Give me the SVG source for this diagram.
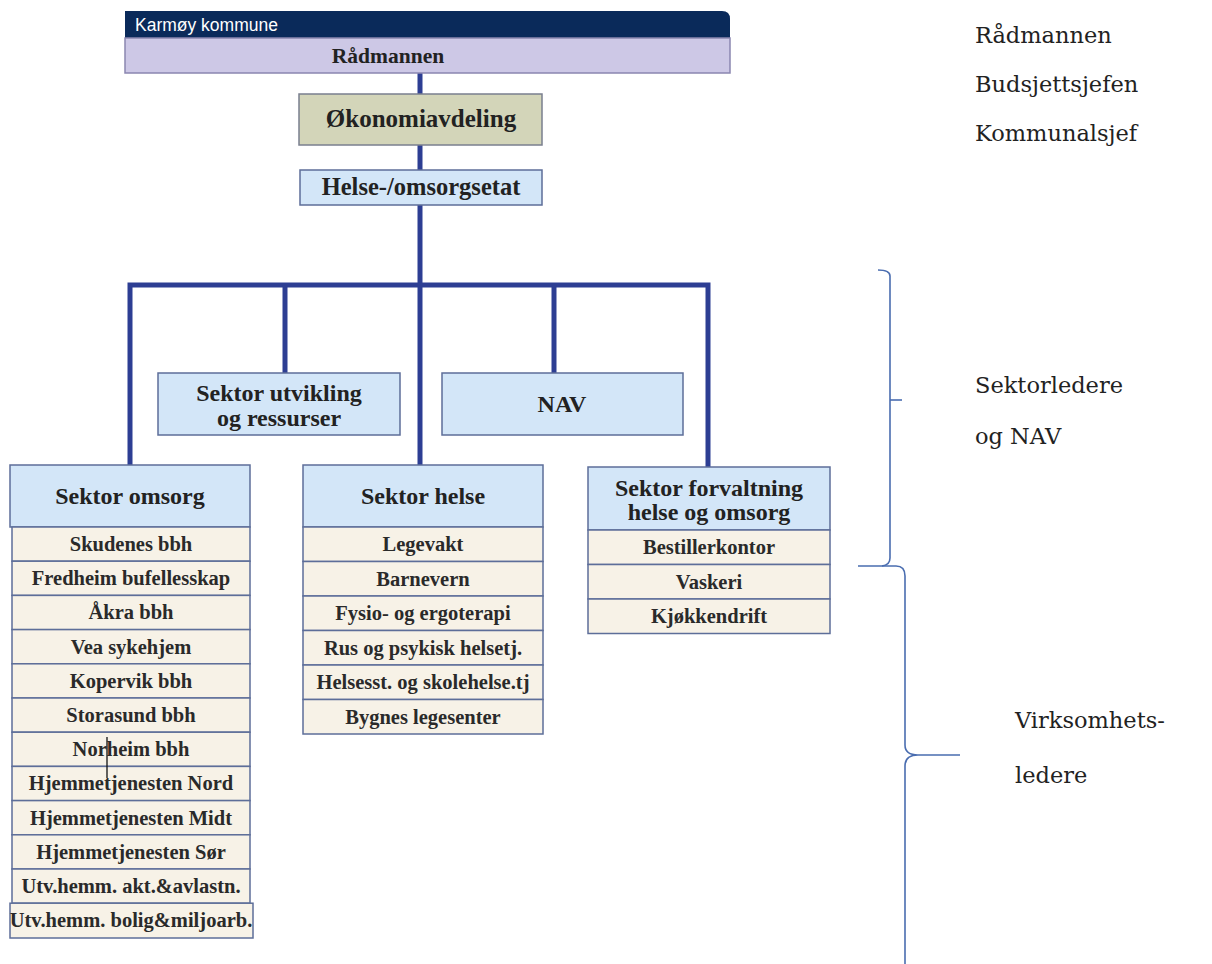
<svg xmlns="http://www.w3.org/2000/svg" width="1212" height="964" viewBox="0 0 1212 964">
<style>
.hdr{fill:#d3e6f8;stroke:#5d6e99;stroke-width:1.5}
.row{fill:#f7f2e7;stroke:#5d6e99;stroke-width:1.5}
.ht{font-family:"Liberation Serif",serif;font-weight:bold;font-size:24px;fill:#222;text-anchor:middle}
.rt{font-family:"Liberation Serif",serif;font-weight:bold;font-size:20.5px;fill:#2a2a2a;text-anchor:middle}
.side{font-family:"DejaVu Serif",serif;font-size:22.5px;fill:#222}
.conn{stroke:#2d3e93;stroke-width:5;fill:none;stroke-linejoin:miter}
.br{stroke:#4a6db0;stroke-width:1.6;fill:none}
</style>
<rect width="1212" height="964" fill="#ffffff"/>

<g id="connectors">
<path class="conn" d="M420,73 V94 M420,145 V170 M420,205 V465"/>
<path class="conn" d="M130,465 V285 H708 V467"/>
<path class="conn" d="M285,285 V373 M554,285 V373"/>
</g>

<g id="karmoy">
<path d="M125,11 H722 Q730,11 730,19 V38 H125 Z" fill="#0a2a5a"/>
<text x="135" y="31" font-family="Liberation Sans, sans-serif" font-size="17.5" fill="#ffffff">Karmøy kommune</text>
<rect x="125" y="38" width="605" height="35" fill="#cdc8e6" stroke="#8a86b0" stroke-width="1.5"/>
<text x="388" y="63" class="ht" style="font-size:21.5px">Rådmannen</text>
</g>

<g id="okonomi">
<rect x="299" y="94" width="243" height="51" fill="#d3d5b9" stroke="#7a7f8f" stroke-width="1.5"/>
<text x="421" y="127" class="ht" style="font-size:25px">Økonomiavdeling</text>
</g>

<g id="helseomsorg">
<rect x="300" y="170" width="242" height="35" class="hdr"/>
<text x="421" y="195" class="ht" style="font-size:24.5px">Helse-/omsorgsetat</text>
</g>

<g id="utvikling">
<rect x="158" y="373" width="242" height="62" class="hdr"/>
<text x="279" y="401" class="ht">Sektor utvikling</text>
<text x="279" y="426" class="ht">og ressurser</text>
</g>

<g id="nav">
<rect x="442" y="373" width="241" height="62" class="hdr"/>
<text x="562" y="412" class="ht">NAV</text>
</g>

<g id="omsorg">
<rect x="10" y="465" width="240" height="62" class="hdr"/>
<text x="130" y="504" class="ht">Sektor omsorg</text>
<rect x="12" y="527" width="238" height="34.2" class="row"/>
<text x="131" y="551" class="rt">Skudenes bbh</text>
<rect x="12" y="561.2" width="238" height="34.2" class="row"/>
<text x="131" y="585" class="rt">Fredheim bufellesskap</text>
<rect x="12" y="595.4" width="238" height="34.2" class="row"/>
<text x="131" y="619" class="rt">Åkra bbh</text>
<rect x="12" y="629.6" width="238" height="34.2" class="row"/>
<text x="131" y="654" class="rt">Vea sykehjem</text>
<rect x="12" y="663.8" width="238" height="34.2" class="row"/>
<text x="131" y="688" class="rt">Kopervik bbh</text>
<rect x="12" y="698" width="238" height="34.2" class="row"/>
<text x="131" y="722" class="rt">Storasund bbh</text>
<rect x="12" y="732.2" width="238" height="34.2" class="row"/>
<text x="131" y="756" class="rt">Norheim bbh</text>
<rect x="12" y="766.4" width="238" height="34.2" class="row"/>
<text x="131" y="790" class="rt">Hjemmetjenesten Nord</text>
<rect x="12" y="800.6" width="238" height="34.2" class="row"/>
<text x="131" y="825" class="rt">Hjemmetjenesten Midt</text>
<rect x="12" y="834.8" width="238" height="34.2" class="row"/>
<text x="131" y="859" class="rt">Hjemmetjenesten Sør</text>
<rect x="12" y="869" width="238" height="34.2" class="row"/>
<text x="131" y="893" class="rt">Utv.hemm. akt.&amp;avlastn.</text>
<rect x="10" y="903.2" width="243" height="34.8" class="row"/>
<text x="131" y="927" class="rt">Utv.hemm. bolig&amp;miljoarb.</text>
<line x1="107" y1="737" x2="107" y2="778" stroke="#111" stroke-width="1.3"/>
</g>

<g id="helse">
<rect x="303" y="465" width="240" height="62" class="hdr"/>
<text x="423" y="504" class="ht">Sektor helse</text>
<rect x="303" y="527" width="240" height="34.5" class="row"/>
<text x="423" y="551" class="rt">Legevakt</text>
<rect x="303" y="561.5" width="240" height="34.5" class="row"/>
<text x="423" y="586" class="rt">Barnevern</text>
<rect x="303" y="596" width="240" height="34.5" class="row"/>
<text x="423" y="620" class="rt">Fysio- og ergoterapi</text>
<rect x="303" y="630.5" width="240" height="34.5" class="row"/>
<text x="423" y="655" class="rt">Rus og psykisk helsetj.</text>
<rect x="303" y="665" width="240" height="34.5" class="row"/>
<text x="423" y="689" class="rt">Helsesst. og skolehelse.tj</text>
<rect x="303" y="699.5" width="240" height="34.5" class="row"/>
<text x="423" y="724" class="rt">Bygnes legesenter</text>
</g>

<g id="forvaltning">
<rect x="588" y="467" width="242" height="63" class="hdr"/>
<text x="709" y="496" class="ht">Sektor forvaltning</text>
<text x="709" y="520" class="ht">helse og omsorg</text>
<rect x="588" y="530" width="242" height="34.5" class="row"/>
<text x="709" y="554" class="rt">Bestillerkontor</text>
<rect x="588" y="564.5" width="242" height="34.5" class="row"/>
<text x="709" y="589" class="rt">Vaskeri</text>
<rect x="588" y="599" width="242" height="34.5" class="row"/>
<text x="709" y="623" class="rt">Kjøkkendrift</text>
</g>

<g id="labels">
<text x="975" y="43" class="side">Rådmannen</text>
<text x="975" y="92" class="side">Budsjettsjefen</text>
<text x="975" y="141" class="side">Kommunalsjef</text>
<text x="975" y="393" class="side">Sektorledere</text>
<text x="975" y="444" class="side">og NAV</text>
<text x="1015" y="728" class="side">Virksomhets-</text>
<text x="1015" y="783" class="side">ledere</text>
</g>

<g id="brackets">
<path class="br" d="M878,270 Q890,270 890,276 V558 Q890,565 882,566"/>
<path class="br" d="M890,400 H902"/>
<path class="br" d="M858,566 H896 Q905,566 905,576 V745 Q905,755 918,755 H960 M918,755 Q905,755 905,766 V964"/>
</g>
</svg>
